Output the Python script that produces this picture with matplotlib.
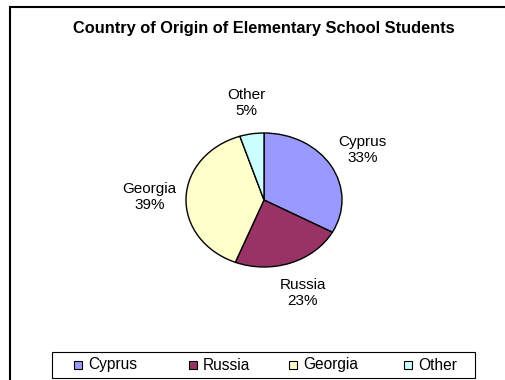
import matplotlib
matplotlib.use("Agg")
import matplotlib.pyplot as plt
from matplotlib.patches import Rectangle

plt.rcParams['font.family'] = ['Liberation Sans', 'DejaVu Sans']

title = "Country of Origin of Elementary School Students"
categories = ["Cyprus", "Russia", "Georgia", "Other"]
values = [33, 23, 39, 5]
colors = ["#9999FF", "#993366", "#FFFFCC", "#CCFFFF"]

W, H = 506, 380
fig = plt.figure(figsize=(W / 100, H / 100), dpi=100)
fig.patch.set_facecolor("white")

def fx(px):
    return px / W

def fy(py):
    return 1 - py / H

# outer chart frame (extends past right/bottom edges)
fig.patches.append(Rectangle((fx(10), -0.2), 1.2, fy(7) + 0.2,
                             transform=fig.transFigure, fill=False,
                             edgecolor="black", linewidth=1.5))

fig.text(fx(264), fy(29), title, ha="center", va="center",
         fontsize=11.8, fontweight="bold")

# pie axes (elliptical pie)
cx, cy, rw, rh = 264, 200, 78, 67
ax = fig.add_axes([fx(cx - rw), fy(cy + rh), 2 * rw / W, 2 * rh / H])
ax.axis("off")

labels = [f"{c}\n{v}%" for c, v in zip(categories, values)]
wedges, texts = ax.pie(values, colors=colors, startangle=90, counterclock=False,
                       labels=labels, labeldistance=1.47, radius=1,
                       wedgeprops=dict(edgecolor="black", linewidth=1.0),
                       textprops=dict(ha="center", va="center", fontsize=11,
                                      linespacing=1.2))
ax.set_xlim(-1, 1)
ax.set_ylim(-1, 1)
ax.set_aspect("auto")

# legend box (drawn manually to match entry placement)
fig.patches.append(Rectangle((fx(52), fy(378)), (475 - 52) / W, 26 / H,
                             transform=fig.transFigure, facecolor="white",
                             edgecolor="black", linewidth=0.8))
marker_x = [74, 189, 289, 404]
sq = 8
for x, c, name in zip(marker_x, colors, categories):
    fig.patches.append(Rectangle((fx(x), fy(365 + sq / 2)), sq / W, sq / H,
                                 transform=fig.transFigure, facecolor=c,
                                 edgecolor="black", linewidth=0.8))
    fig.text(fx(x + sq + 6), fy(365), name, ha="left", va="center",
             fontsize=11.2)

fig.savefig("out.png", dpi=100, facecolor="white")
